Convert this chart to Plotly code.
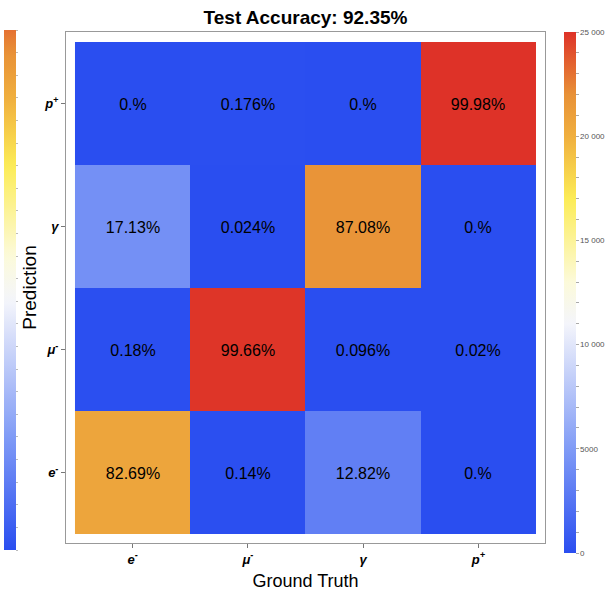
import plotly.graph_objects as go
from plotly.colors import sample_colorscale

# Confusion matrix (percent of each ground-truth class), rows = prediction
classes = ["e<sup>-</sup>", "μ<sup>-</sup>", "γ", "p<sup>+</sup>"]
class_size = 25000  # test samples per class

row_e = [82.69, 0.14, 12.82, 0.0]
row_mu = [0.18, 99.66, 0.096, 0.02]
row_gamma = [17.13, 0.024, 87.08, 0.0]
row_p = [0.0, 0.176, 0.0, 99.98]
pct_rows = [row_e, row_mu, row_gamma, row_p]

accuracy = 92.35

cb_ticks = list(range(0, 25001, 1000))
cb_labels = {25000: "25 000", 20000: "20 000", 15000: "15 000",
             10000: "10 000", 5000: "5000", 0: "0"}

# blue -> white -> yellow -> orange -> red
cscale = [
    [0.00, "rgb(42,78,240)"],
    [0.20, "rgb(128,155,246)"],
    [0.44, "rgb(244,245,251)"],
    [0.52, "rgb(252,250,218)"],
    [0.68, "rgb(252,236,86)"],
    [0.80, "rgb(240,175,62)"],
    [0.88, "rgb(232,145,55)"],
    [1.00, "rgb(222,50,40)"],
]

# left scale covers only 0..23000 of the same palette
left_max = 23000
frac = left_max / 25000
n_samp = 60
left_pts = [i / (n_samp - 1) for i in range(n_samp)]
left_cols = sample_colorscale(cscale, [p * frac for p in left_pts])
left_scale = [[p, c] for p, c in zip(left_pts, left_cols)]


def fmt(v):
    return "0.%" if v == 0 else f"{v}%"


counts = [[p / 100 * class_size for p in row] for row in pct_rows]
texts = [[fmt(p) for p in row] for row in pct_rows]

# plot area in pixels: x 66..545, y 32..543
PW, PH = 479, 511


def px_x(x):
    return (x - 66) / PW


def px_y(y):
    return (543 - y) / PH


fig = go.Figure()

fig.add_trace(go.Heatmap(
    z=counts, x=[0, 1, 2, 3], y=[0, 1, 2, 3],
    text=texts, texttemplate="%{text}",
    textfont=dict(family="Liberation Sans, Arial", size=16, color="black"),
    colorscale=cscale, zmin=0, zmax=25000,
    hoverinfo="skip",
    colorbar=dict(
        x=px_x(564), xanchor="left", y=px_y(553), yanchor="bottom",
        lenmode="pixels", len=521, thicknessmode="pixels", thickness=12,
        xpad=0, ypad=0, outlinewidth=0,
        tickmode="array", tickvals=cb_ticks,
        ticktext=[cb_labels.get(t, "") for t in cb_ticks],
        ticks="outside", ticklen=3, tickcolor="#aaa", tickwidth=1,
        tickfont=dict(family="Liberation Sans, Arial", size=8, color="#555"),
    ),
))

# Secondary unlabeled scale on the left side
left_ticks = list(range(0, left_max + 1, 1000))
fig.add_trace(go.Scatter(
    x=[None], y=[None], mode="markers", hoverinfo="skip", showlegend=False,
    marker=dict(
        color=[0], cmin=0, cmax=left_max, colorscale=left_scale,
        showscale=True,
        colorbar=dict(
            x=px_x(4), xanchor="left", y=px_y(550), yanchor="bottom",
            lenmode="pixels", len=520, thicknessmode="pixels", thickness=12,
            xpad=0, ypad=0, outlinewidth=0,
            tickmode="array", tickvals=left_ticks,
            ticktext=["" for _ in left_ticks],
            ticks="outside", ticklen=2, tickcolor="#bbb", tickwidth=1,
        ),
    ),
))

tick_font = dict(family="Liberation Sans, Arial", size=13, color="black",
                 style="italic", weight="bold")

fig.update_layout(
    width=611, height=591,
    margin=dict(l=66, r=66, t=32, b=48, autoexpand=False),
    paper_bgcolor="white", plot_bgcolor="white",
    title=dict(text=f"Test Accuracy: {accuracy}%", x=0.5, xanchor="center",
               y=1 - 17 / 591, yanchor="middle",
               font=dict(family="Liberation Sans, Arial", size=19,
                         color="black", weight="bold")),
    xaxis=dict(
        range=[-0.578, 3.578], tickvals=[0, 1, 2, 3], ticktext=classes,
        showgrid=False, zeroline=False, showline=True, mirror=True,
        linecolor="#999", linewidth=1, ticks="outside", ticklen=4,
        tickcolor="#777", tickfont=tick_font,
        title=dict(text="Ground Truth", standoff=14,
                   font=dict(family="Liberation Sans, Arial", size=18,
                             color="black")),
    ),
    yaxis=dict(
        range=[-0.5732, 3.5813], tickvals=[0, 1, 2, 3], ticktext=classes,
        showgrid=False, zeroline=False, showline=True, mirror=True,
        linecolor="#999", linewidth=1, ticks="outside", ticklen=4,
        tickcolor="#777", tickfont=tick_font,
        title=dict(text="Prediction", standoff=2,
                   font=dict(family="Liberation Sans, Arial", size=19,
                             color="black")),
    ),
)

fig.write_html("out.html")
